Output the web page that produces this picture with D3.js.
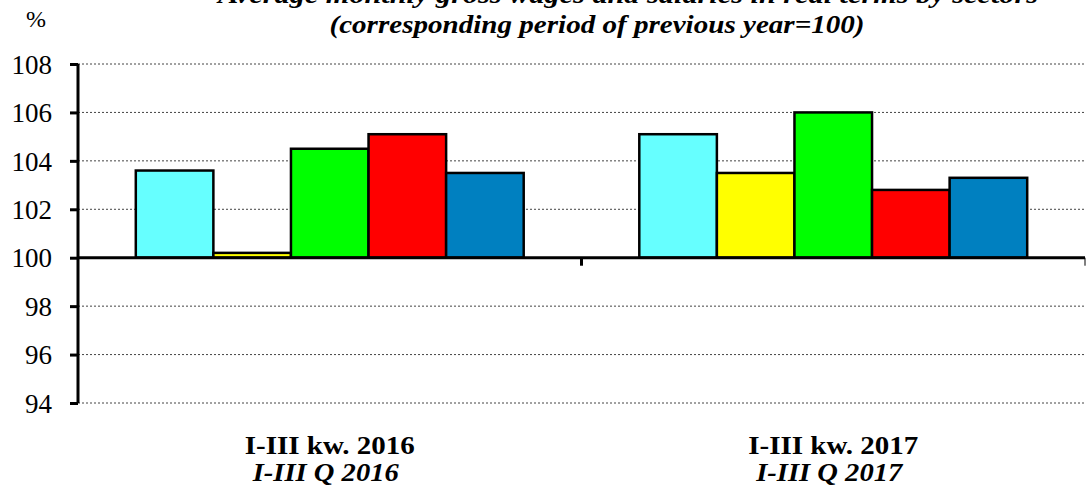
<!DOCTYPE html>
<html>
<head>
    <meta charset="utf-8">
    <title>Average monthly gross wages and salaries in real terms by sectors</title>
    <style>
        body {
            margin: 0;
            background: #fff;
        }
        svg text {
            font-family: "Liberation Serif", "Times New Roman", Times, serif;
        }
    </style>
</head>
<body>
    <div id="chart"></div>

    <script src="https://cdnjs.cloudflare.com/ajax/libs/d3/7.8.5/d3.min.js"></script>
    <script>
    // Data
    const categories = ["I-III kw. 2016", "I-III kw. 2017"];
    const categoriesEn = ["I-III Q 2016", "I-III Q 2017"];
    const sectors = ["s1", "s2", "s3", "s4", "s5"];
    const values2016 = [103.6, 100.2, 104.5, 105.1, 103.5];
    const values2017 = [105.1, 103.5, 106.0, 102.8, 103.3];
    const yTicks = [94, 96, 98, 100, 102, 104, 106, 108];
    const colors = ["#66FFFF", "#FFFF00", "#00FF00", "#FF0000", "#0080C0"];

    const seriesByCategory = [values2016, values2017];

    const width = 1087, height = 496;
    const plotLeft = 78, plotRight = 1085, plotTop = 64, plotBottom = 403;

    const svg = d3.select("#chart").append("svg")
        .attr("width", width)
        .attr("height", height);

    const x = d3.scaleBand()
        .domain(categories)
        .range([plotLeft, plotRight])
        .padding(0);

    const xSub = d3.scaleBand()
        .domain(sectors)
        .range([0, x.bandwidth()])
        .paddingInner(0)
        .paddingOuter(0.745);

    const y = d3.scaleLinear()
        .domain([94, 108])
        .range([plotBottom, plotTop]);

    const color = d3.scaleOrdinal().domain(sectors).range(colors);

    // Dotted grid lines
    svg.append("g")
        .selectAll("line")
        .data(yTicks.filter(t => t !== 100))
        .enter().append("line")
        .attr("x1", plotLeft)
        .attr("x2", plotRight)
        .attr("y1", d => y(d))
        .attr("y2", d => y(d))
        .attr("stroke", "#444")
        .attr("stroke-width", 1)
        .attr("stroke-dasharray", "2 2");

    // Y axis
    const yAxis = svg.append("g")
        .attr("transform", `translate(${plotLeft},0)`)
        .call(d3.axisLeft(y).tickValues(yTicks).tickSize(8).tickPadding(18));
    yAxis.attr("font-family", null);
    yAxis.select(".domain")
        .attr("d", `M0,${y(108)}V${y(94)}`)
        .attr("stroke-width", 3);
    yAxis.selectAll(".tick line").attr("stroke-width", 3);
    yAxis.selectAll(".tick text")
        .style("font-size", "27px")
        .attr("dy", "0.34em")
        .attr("fill", "#000");

    // Bars
    const groups = svg.selectAll(".group")
        .data(categories)
        .enter().append("g")
        .attr("class", "group")
        .attr("transform", d => `translate(${x(d)},0)`);

    groups.selectAll("rect")
        .data((d, i) => seriesByCategory[i].map((v, j) => ({key: sectors[j], value: v})))
        .enter().append("rect")
        .attr("x", d => xSub(d.key))
        .attr("width", xSub.bandwidth())
        .attr("y", d => y(Math.max(d.value, 100)))
        .attr("height", d => Math.abs(y(d.value) - y(100)))
        .attr("fill", d => color(d.key))
        .attr("stroke", "#000")
        .attr("stroke-width", 2.5);

    // Category axis at 100
    svg.append("line")
        .attr("x1", plotLeft)
        .attr("x2", plotRight)
        .attr("y1", y(100))
        .attr("y2", y(100))
        .attr("stroke", "#000")
        .attr("stroke-width", 3);

    // Category dividers (ticks below the 100 line)
    svg.append("g")
        .selectAll("line")
        .data(categories.slice(1).map(c => x(c)).concat([plotRight]))
        .enter().append("line")
        .attr("x1", d => d)
        .attr("x2", d => d)
        .attr("y1", y(100))
        .attr("y2", y(100) + 8)
        .attr("stroke", "#000")
        .attr("stroke-width", (d, i) => i === 0 ? 3 : 1);

    // Category labels
    const labels = svg.append("g")
        .selectAll("g")
        .data(categories)
        .enter().append("g")
        .attr("transform", d => `translate(${x(d) + x.bandwidth() / 2},0)`);

    labels.append("text")
        .attr("y", 454)
        .attr("text-anchor", "middle")
        .style("font-weight", "bold")
        .style("font-size", "25px")
        .attr("textLength", 170)
        .attr("lengthAdjust", "spacingAndGlyphs")
        .text(d => d);

    labels.append("text")
        .attr("x", -4)
        .attr("y", 481)
        .attr("text-anchor", "middle")
        .style("font-weight", "bold")
        .style("font-style", "italic")
        .style("font-size", "26px")
        .attr("textLength", 146)
        .attr("lengthAdjust", "spacingAndGlyphs")
        .text((d, i) => categoriesEn[i]);

    // Titles (first line is clipped by the top edge, as in the original)
    svg.append("text")
        .attr("x", 628)
        .attr("y", 3)
        .attr("text-anchor", "middle")
        .style("font-weight", "bold")
        .style("font-style", "italic")
        .style("font-size", "26px")
        .attr("textLength", 820)
        .attr("lengthAdjust", "spacingAndGlyphs")
        .text("Average monthly gross wages and salaries in real terms by sectors");

    svg.append("text")
        .attr("x", 597)
        .attr("y", 33)
        .attr("text-anchor", "middle")
        .style("font-weight", "bold")
        .style("font-style", "italic")
        .style("font-size", "26px")
        .attr("textLength", 535)
        .attr("lengthAdjust", "spacingAndGlyphs")
        .text("(corresponding period of previous year=100)");

    svg.append("text")
        .attr("x", 26)
        .attr("y", 27)
        .style("font-size", "24px")
        .text("%");
    </script>
</body>
</html>
